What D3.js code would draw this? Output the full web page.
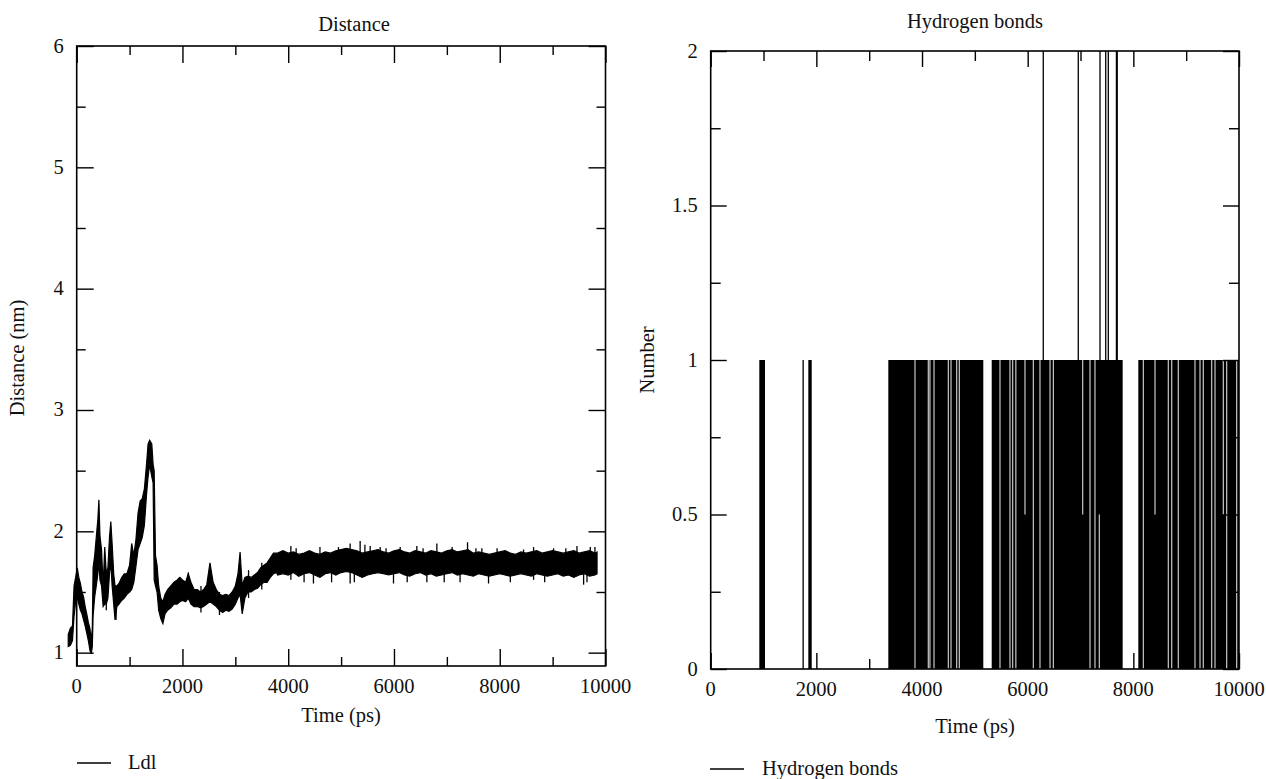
<!DOCTYPE html>
<html><head><meta charset="utf-8">
<script src="https://cdn.jsdelivr.net/npm/d3@7"></script>
<style>
html,body{margin:0;padding:0;background:#fff;}
svg text{font-family:"Liberation Serif","Times New Roman",serif;fill:#111;}
</style></head>
<body>
<svg id="chart" width="1266" height="779"></svg>
<script>
// ---------- Distance panel data ----------
const distTime = [-160,-120,-80,-50,-20,10,40,70,100,130,160,190,220,250,275,295,310,340,370,400,420,440,470,500,530,560,590,620,645,670,700,725,760,800,850,900,950,1000,1040,1080,1120,1160,1200,1240,1280,1320,1350,1380,1420,1445,1465,1490,1520,1550,1590,1630,1670,1720,1780,1840,1900,1950,2000,2060,2110,2160,2220,2280,2340,2400,2460,2520,2580,2640,2700,2760,2820,2880,2940,3000,3050,3090,3130,3180,3240,3300,3360,3420,3480,3540,3600,3660,3720,3780,3800,3900,4000,4100,4200,4300,4400,4500,4600,4700,4800,4900,5000,5100,5200,5300,5400,5500,5600,5700,5800,5900,6000,6100,6200,6300,6400,6500,6600,6700,6800,6900,7000,7100,7200,7300,7400,7500,7600,7700,7800,7900,8000,8100,8200,8300,8400,8500,8600,8700,8800,8900,9000,9100,9200,9300,9400,9500,9600,9700,9800,9840];
const distLow = [1.05,1.06,1.10,1.30,1.42,1.45,1.40,1.35,1.32,1.27,1.22,1.16,1.10,1.02,0.99,1.05,1.30,1.46,1.55,1.65,1.75,1.60,1.55,1.38,1.40,1.40,1.45,1.65,1.75,1.55,1.40,1.27,1.38,1.40,1.43,1.45,1.48,1.50,1.52,1.58,1.71,1.85,1.90,1.95,2.05,2.30,2.45,2.55,2.45,2.40,1.60,1.55,1.50,1.35,1.28,1.24,1.32,1.35,1.37,1.40,1.40,1.42,1.43,1.42,1.45,1.40,1.38,1.38,1.37,1.38,1.40,1.42,1.40,1.38,1.35,1.33,1.35,1.34,1.36,1.40,1.45,1.48,1.32,1.45,1.50,1.50,1.52,1.53,1.56,1.58,1.58,1.62,1.65,1.66,1.64,1.65,1.64,1.66,1.63,1.65,1.66,1.64,1.62,1.65,1.66,1.64,1.66,1.67,1.66,1.64,1.62,1.64,1.65,1.66,1.65,1.64,1.65,1.66,1.64,1.63,1.65,1.66,1.64,1.65,1.63,1.64,1.65,1.66,1.64,1.65,1.64,1.63,1.65,1.64,1.63,1.64,1.65,1.64,1.63,1.64,1.65,1.64,1.63,1.65,1.64,1.63,1.64,1.65,1.63,1.64,1.62,1.64,1.65,1.63,1.64,1.65];
const distHigh = [1.15,1.20,1.22,1.55,1.62,1.70,1.62,1.57,1.50,1.46,1.38,1.32,1.25,1.20,1.10,1.20,1.70,1.80,1.95,2.10,2.26,1.96,1.85,1.54,1.87,1.65,1.70,1.95,2.08,1.90,1.65,1.55,1.55,1.57,1.62,1.65,1.65,1.72,1.90,1.80,1.93,2.15,2.25,2.27,2.35,2.55,2.72,2.75,2.72,2.55,2.50,1.80,1.72,1.55,1.45,1.42,1.48,1.52,1.55,1.58,1.60,1.62,1.60,1.58,1.65,1.58,1.52,1.52,1.50,1.52,1.56,1.74,1.58,1.52,1.48,1.47,1.48,1.47,1.50,1.55,1.65,1.83,1.55,1.62,1.63,1.62,1.64,1.66,1.70,1.72,1.74,1.78,1.82,1.82,1.82,1.84,1.82,1.83,1.81,1.82,1.84,1.82,1.81,1.83,1.82,1.84,1.85,1.86,1.85,1.84,1.82,1.83,1.84,1.85,1.83,1.82,1.84,1.85,1.83,1.82,1.84,1.83,1.82,1.84,1.83,1.82,1.84,1.85,1.83,1.84,1.85,1.82,1.83,1.82,1.81,1.82,1.83,1.84,1.82,1.81,1.83,1.82,1.83,1.84,1.82,1.83,1.84,1.83,1.82,1.83,1.84,1.82,1.83,1.84,1.82,1.83];
const distSpikeTime = [560,744,2112,2350,2700,3250,3500,4050,4150,4300,4477,4600,4820,4950,5171,5250,5360,5450,5550,5739,5850,5991,6117,6250,6432,6550,6622,6811,6950,7100,7250,7391,7550,7662,7788,7950,8200,8450,8640,8850,9018,9250,9460,9586,9650,9712,9800];
const distSpikeLow  = [1.35,1.27,1.50,1.33,1.31,1.45,1.52,1.60,1.70,1.58,1.57,1.70,1.58,1.70,1.57,1.58,1.70,1.70,1.70,1.70,1.70,1.57,1.70,1.58,1.70,1.70,1.58,1.70,1.58,1.70,1.58,1.70,1.70,1.70,1.57,1.70,1.58,1.70,1.60,1.58,1.70,1.70,1.70,1.56,1.58,1.70,1.70];
const distSpikeHigh = [1.60,1.50,1.66,1.55,1.50,1.68,1.74,1.88,1.86,1.72,1.75,1.87,1.70,1.87,1.90,1.70,1.92,1.89,1.88,1.87,1.86,1.75,1.87,1.70,1.88,1.86,1.75,1.90,1.70,1.87,1.70,1.91,1.86,1.86,1.75,1.86,1.70,1.85,1.87,1.70,1.86,1.86,1.88,1.75,1.70,1.87,1.87];

// ---------- Hydrogen bonds panel data ----------
const hbBandStart = [920, 1848, 3362, 5319, 8094];
const hbBandEnd   = [1028, 1912, 5160, 7798, 10000];
const hbBandLow   = [0, 0, 0, 0, 0];
const hbBandHigh  = [1, 1, 1, 1, 1];
const hbLineTime = [1750];
const hbLineLow  = [0];
const hbLineHigh = [1];
const hbGapTime = [3867,4119,4150,4227,4498,4549,4656,4706,5476,5665,5716,5776,5949,6107,6233,6423,6486,7041,7180,7274,7356,8189,8410,8662,8726,8851,9167,9262,9324,9483,9546,9703,9767,9956];
const hbGapLow  = [0,0,0,0,0,0,0,0,0,0,0,0,0.5,0,0,0,0,0.5,0,0,0,0,0.5,0,0,0,0,0,0,0,0,0.5,0,0];
const hbGapHigh = [1,1,1,1,1,1,1,1,1,1,1,1,1,1,1,1,1,1,1,1,0.5,1,1,1,1,1,1,1,1,1,1,1,1,1];
const hbPeakTime = [6295, 6958, 7369, 7477, 7526, 7680, 7695];
const hbPeakLow  = [1, 1, 1, 1, 1, 1, 1];
const hbPeakHigh = [2, 2, 2, 2, 2, 2, 2];

// ---------- Ticks / labels ----------
const xMajor = [0, 2000, 4000, 6000, 8000, 10000];
const xMinor = [1000, 3000, 5000, 7000, 9000];
const distYMajor = [1, 2, 3, 4, 5, 6];
const distYMinor = [1.5, 2.5, 3.5, 4.5, 5.5];
const hbYMajor = [0, 0.5, 1, 1.5, 2];
const hbYMinor = [0.25, 0.75, 1.25, 1.75];

const FS = "20.5px";
const svg = d3.select("#chart");

function frameAxes(g, x, y, xMaj, xMin, yMaj, yMin, majLen, minLen, yFmt) {
  const [x0, x1] = x.range();
  const [yb, yt] = y.range();
  const add = (axis) => g.append("g").call(axis).call(s => { s.select(".domain").remove(); s.selectAll("text").remove(); s.selectAll("line").attr("stroke", "#000").attr("stroke-width", 1.4); });
  add(d3.axisBottom(x).tickValues(xMaj).tickSize(-majLen)).attr("transform", `translate(0,${yb})`);
  add(d3.axisBottom(x).tickValues(xMin).tickSize(-minLen)).attr("transform", `translate(0,${yb})`);
  add(d3.axisTop(x).tickValues(xMaj).tickSize(-majLen)).attr("transform", `translate(0,${yt})`);
  add(d3.axisTop(x).tickValues(xMin).tickSize(-minLen)).attr("transform", `translate(0,${yt})`);
  add(d3.axisLeft(y).tickValues(yMaj).tickSize(-majLen)).attr("transform", `translate(${x0},0)`);
  add(d3.axisLeft(y).tickValues(yMin).tickSize(-minLen)).attr("transform", `translate(${x0},0)`);
  add(d3.axisRight(y).tickValues(yMaj).tickSize(-majLen)).attr("transform", `translate(${x1},0)`);
  add(d3.axisRight(y).tickValues(yMin).tickSize(-minLen)).attr("transform", `translate(${x1},0)`);
  g.append("rect").attr("x", x0).attr("y", yt).attr("width", x1 - x0).attr("height", yb - yt)
    .attr("fill", "none").attr("stroke", "#000").attr("stroke-width", 1.6);
  g.append("g").selectAll("text").data(xMaj).join("text")
    .attr("x", d => x(d)).attr("y", yb + 27).attr("text-anchor", "middle")
    .style("font-size", FS).text(d => d);
  g.append("g").selectAll("text").data(yMaj).join("text")
    .attr("x", x0 - 13).attr("y", d => y(d) + 6.5).attr("text-anchor", "end")
    .style("font-size", FS).text(yFmt);
}

// ---------- Left panel: Distance ----------
const xL = d3.scaleLinear().domain([0, 10000]).range([76.7, 605.5]);
const yL = d3.scaleLinear().domain([0.89, 6]).range([666, 46]);
const gL = svg.append("g");

const distData = distTime.map((t, i) => ({ t, lo: distLow[i], hi: distHigh[i] }));
gL.append("path").datum(distData)
  .attr("d", d3.area().x(d => xL(d.t)).y0(d => yL(d.lo)).y1(d => yL(d.hi)))
  .attr("fill", "#000").attr("stroke", "#000").attr("stroke-width", 1.2);
gL.append("g").selectAll("line").data(distSpikeTime).join("line")
  .attr("x1", d => xL(d)).attr("x2", d => xL(d))
  .attr("y1", (d, i) => yL(distSpikeLow[i])).attr("y2", (d, i) => yL(distSpikeHigh[i]))
  .attr("stroke", "#000").attr("stroke-width", 1.3);

frameAxes(gL, xL, yL, xMajor, xMinor, distYMajor, distYMinor, 17, 9, d => d);

gL.append("text").attr("x", 354).attr("y", 31).attr("text-anchor", "middle").style("font-size", FS).text("Distance");
gL.append("text").attr("x", 341).attr("y", 722).attr("text-anchor", "middle").style("font-size", FS).text("Time (ps)");
gL.append("text").attr("transform", "translate(24,358) rotate(-90)").attr("text-anchor", "middle").style("font-size", FS).text("Distance (nm)");
gL.append("line").attr("x1", 77).attr("x2", 111).attr("y1", 763).attr("y2", 763).attr("stroke", "#000").attr("stroke-width", 1.4);
gL.append("text").attr("x", 128).attr("y", 769).style("font-size", FS).text("Ldl");

// ---------- Right panel: Hydrogen bonds ----------
const xR = d3.scaleLinear().domain([0, 10000]).range([710.7, 1239]);
const yR = d3.scaleLinear().domain([0, 2]).range([669, 51]);
const gR = svg.append("g");

gR.append("g").selectAll("rect").data(hbBandStart).join("rect")
  .attr("x", d => xR(d)).attr("width", (d, i) => xR(hbBandEnd[i]) - xR(d))
  .attr("y", (d, i) => yR(hbBandHigh[i])).attr("height", (d, i) => yR(hbBandLow[i]) - yR(hbBandHigh[i]))
  .attr("fill", "#000");
gR.append("g").selectAll("line").data(hbLineTime).join("line")
  .attr("x1", d => xR(d)).attr("x2", d => xR(d))
  .attr("y1", (d, i) => yR(hbLineLow[i])).attr("y2", (d, i) => yR(hbLineHigh[i]))
  .attr("stroke", "#000").attr("stroke-width", 1.3);
gR.append("g").selectAll("line").data(hbGapTime).join("line")
  .attr("x1", d => xR(d)).attr("x2", d => xR(d))
  .attr("y1", (d, i) => yR(hbGapLow[i])).attr("y2", (d, i) => yR(hbGapHigh[i]))
  .attr("stroke", "#c8c8c8").attr("stroke-width", 1.2);
gR.append("g").selectAll("line").data(hbPeakTime).join("line")
  .attr("x1", d => xR(d)).attr("x2", d => xR(d))
  .attr("y1", (d, i) => yR(hbPeakLow[i])).attr("y2", (d, i) => yR(hbPeakHigh[i]))
  .attr("stroke", "#000").attr("stroke-width", 1.3);

frameAxes(gR, xR, yR, xMajor, xMinor, hbYMajor, hbYMinor, 16, 10, d => d);

gR.append("text").attr("x", 975).attr("y", 28).attr("text-anchor", "middle").style("font-size", FS).text("Hydrogen bonds");
gR.append("text").attr("x", 975).attr("y", 733).attr("text-anchor", "middle").style("font-size", FS).text("Time (ps)");
gR.append("text").attr("transform", "translate(654,360) rotate(-90)").attr("text-anchor", "middle").style("font-size", FS).text("Number");
gR.append("line").attr("x1", 710).attr("x2", 744).attr("y1", 769).attr("y2", 769).attr("stroke", "#000").attr("stroke-width", 1.4);
gR.append("text").attr("x", 762).attr("y", 775).style("font-size", FS).text("Hydrogen bonds");
</script>
</body></html>
